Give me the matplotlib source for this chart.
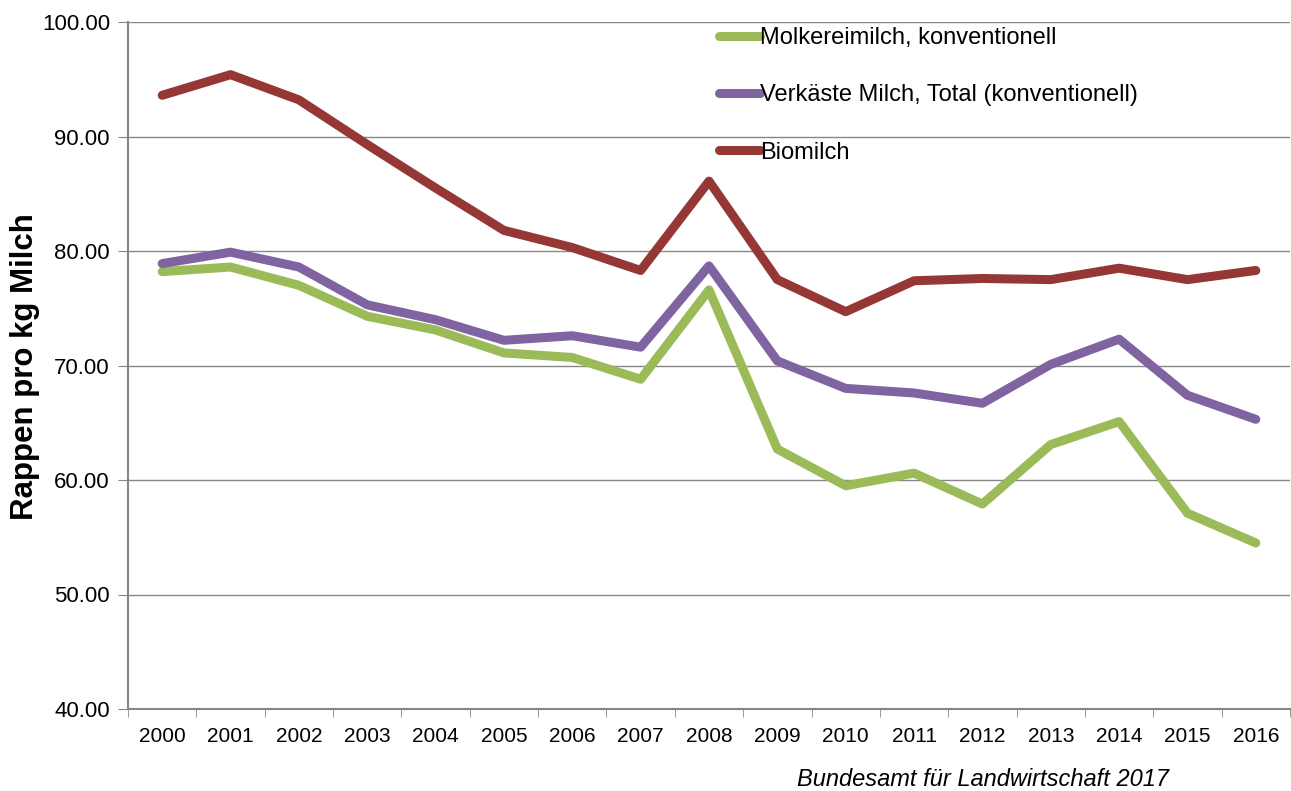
import numpy as np
import matplotlib.pyplot as plt

plt.rcParams["font.family"] = ["Liberation Sans", "DejaVu Sans"]

jahre = [str(j) for j in range(2000, 2017)]
molkerei = [78.2, 78.6, 77.0, 74.3, 73.1, 71.1, 70.7, 68.8, 76.6, 62.7, 59.5, 60.6, 57.9,
            63.1, 65.1, 57.1, 54.5]
verkaest = [78.9, 79.9, 78.6, 75.3, 74.0, 72.2, 72.6, 71.6, 78.7, 70.4, 68.0, 67.6, 66.7,
            70.1, 72.3, 67.4, 65.3]
bio = [93.6, 95.4, 93.2, 89.3, 85.5, 81.8, 80.3, 78.3, 86.1, 77.5, 74.7, 77.4, 77.6,
       77.5, 78.5, 77.5, 78.3]

fig = plt.figure(figsize=(12.91, 7.91), dpi=100)
ax = fig.add_axes([128 / 1291, 1 - 709 / 791, 1162 / 1291, 687 / 791])

x = np.arange(len(jahre))
ax.plot(x, molkerei, color="#9BBB59", lw=6.5, solid_capstyle="round", label="Molkereimilch, konventionell")
ax.plot(x, verkaest, color="#8064A2", lw=6.5, solid_capstyle="round", label="Verkäste Milch, Total (konventionell)")
ax.plot(x, bio, color="#953735", lw=6.5, solid_capstyle="round", label="Biomilch")

ax.set_xlim(-0.5, len(jahre) - 0.5)
ax.set_ylim(40, 100)
ax.set_yticks(np.arange(40, 101, 10))
ax.set_yticklabels([f"{v:.2f}" for v in np.arange(40, 101, 10)], fontsize=16)
ax.set_xticks(x)
ax.set_xticklabels(jahre, fontsize=15)
ax.set_xticks(np.arange(-0.5, len(jahre), 1), minor=True)
ax.tick_params(axis="x", which="major", length=0, pad=13)
ax.tick_params(axis="x", which="minor", length=6, color="#868686")
ax.tick_params(axis="y", length=7, color="#868686", pad=6)
ax.grid(axis="y", color="#868686", lw=1)
ax.set_axisbelow(True)
for s in ["top", "right"]:
    ax.spines[s].set_visible(False)
for s in ["left", "bottom"]:
    ax.spines[s].set_color("#868686")
    ax.spines[s].set_linewidth(1.5)

fig.text(25 / 1291, 1 - 367 / 791, "Rappen pro kg Milch", fontsize=22.5, fontweight="bold",
         rotation=90, ha="center", va="center")

ax.legend(loc="upper left", bbox_to_anchor=(0.5086, 0.993), frameon=False, fontsize=17,
          handlelength=1.75, handletextpad=0.0, labelspacing=1.5, borderpad=0, borderaxespad=0)

fig.text(983 / 1291, 1 - 779 / 791, "Bundesamt für Landwirtschaft 2017", fontsize=17,
         style="italic", ha="center", va="center")

fig.savefig("out.png", dpi=100)
